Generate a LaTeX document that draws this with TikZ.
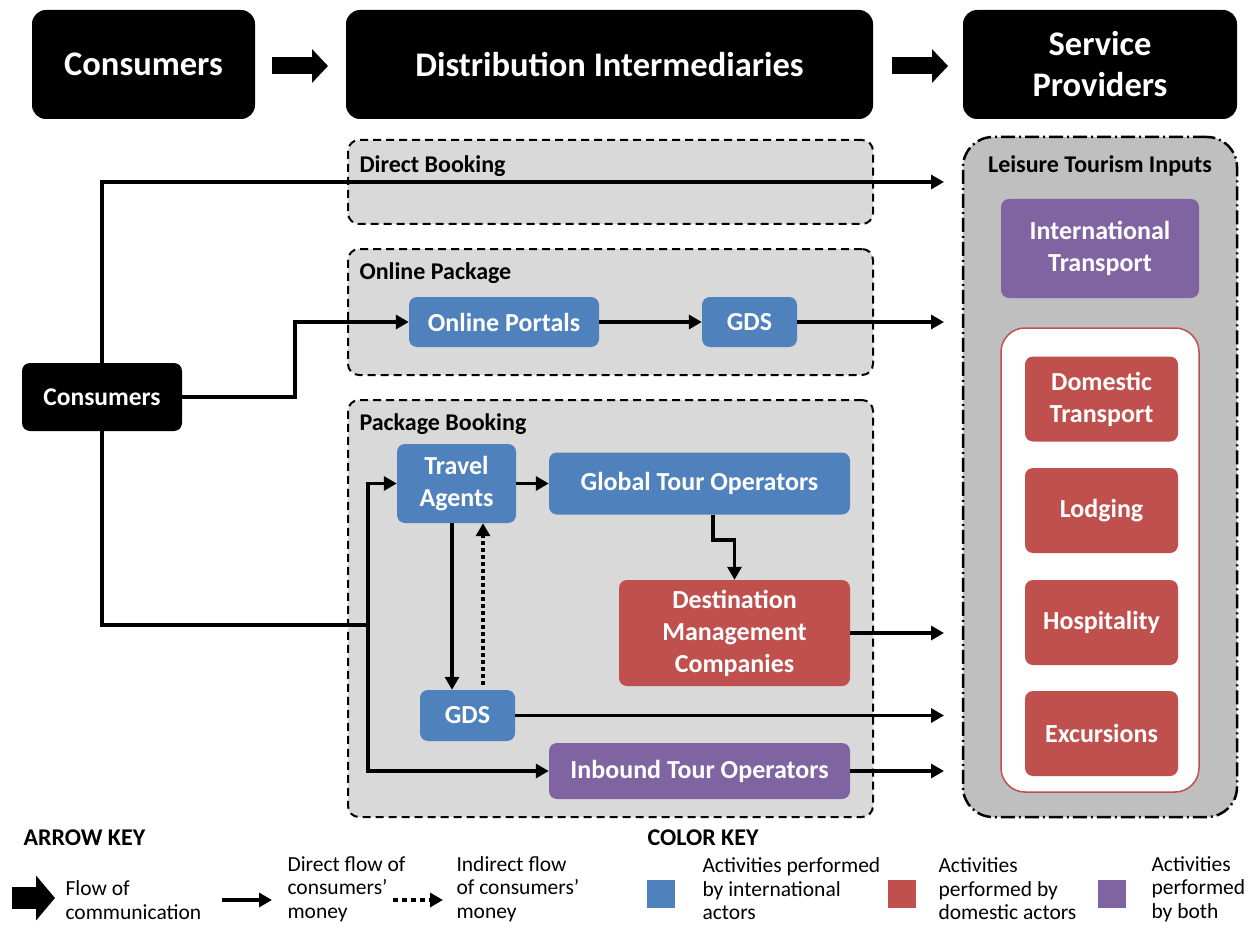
\documentclass[tikz,border=0pt]{standalone}
\usepackage{fontspec}
\setmainfont{Carlito}
\usetikzlibrary{arrows.meta}
\definecolor{intblue}{HTML}{4F81BD}
\definecolor{domred}{HTML}{C0504D}
\definecolor{bothpurple}{HTML}{8064A2}
\definecolor{grpgray}{HTML}{D9D9D9}
\definecolor{panelgray}{HTML}{BFBFBF}

\begin{document}
\begin{tikzpicture}[x=1pt,y=-1pt,
	hdr/.style={fill=black,rounded corners=14pt,text=white,align=center,
		font=\fontsize{34.5}{41}\selectfont\bfseries},
	grp/.style={draw,fill=grpgray,line width=2pt,dash pattern=on 8pt off 5pt,rounded corners=11pt},
	grplabel/.style={anchor=west,font=\fontsize{24}{28}\selectfont\bfseries},
	actbox/.style={rounded corners=8pt,text=white,align=center,
		font=\fontsize{26}{32}\selectfont\bfseries},
	intl/.style={actbox,fill=intblue},
	dom/.style={actbox,fill=domred},
	both/.style={actbox,fill=bothpurple},
	money/.style={line width=3.5pt,-{Triangle[length=13pt,width=14pt]}},
	indirect/.style={money,dash pattern=on 4pt off 3pt},
	comm/.style={line width=17pt,-{Triangle[length=16pt,width=33pt]}},
	keytext/.style={anchor=west,align=left,font=\fontsize{21.5}{23.5}\selectfont},
	keyhead/.style={anchor=west,font=\fontsize{24}{28}\selectfont\bfseries},
	swatch/.style={minimum width=28pt,minimum height=28pt,inner sep=0pt}]
	\useasboundingbox (0,0) rectangle (1258,928);
	% headers
	\node[hdr,minimum width=223pt,minimum height=109pt] (hcons) at (143.5,64.5) {Consumers};
	\node[hdr,minimum width=527pt,minimum height=109pt] (hdist) at (609.5,64.5) {Distribution Intermediaries};
	\node[hdr,minimum width=274pt,minimum height=109pt] (hserv) at (1100,64.5) {Service\\Providers};
	\coordinate (ha1) at (272,66);
	\coordinate (hb1) at (328,66);
	\coordinate (ha2) at (892,66);
	\coordinate (hb2) at (948,66);
	\draw[comm] (ha1) -- (hb1);
	\draw[comm] (ha2) -- (hb2);
	% intermediary groups
	\node[grp,minimum width=525pt,minimum height=84pt] (gdirect) at (610.5,182) {};
	\node[grp,minimum width=525pt,minimum height=126pt] (gonline) at (610.5,312) {};
	\node[grp,minimum width=525pt,minimum height=417pt] (gpackage) at (610.5,608.5) {};
	\node[grplabel] (ldirect) at (356,166) {Direct Booking};
	\node[grplabel] (lonline) at (356,273) {Online Package};
	\node[grplabel] (lpackage) at (356,424) {Package Booking};
	% service providers
	\node[draw,fill=panelgray,line width=2.5pt,rounded corners=30pt,
		dash pattern=on 14pt off 4pt on 2pt off 4pt,
		minimum width=274pt,minimum height=680pt] (inputs) at (1100,477) {};
	\node[grplabel,anchor=center] (linputs) at (1100,166) {Leisure Tourism Inputs};
	\node[both,minimum width=198pt,minimum height=99pt] (itrans) at (1100,248.5) {International\\Transport};
	\node[draw=domred,line width=1.5pt,fill=white,rounded corners=24pt,
		minimum width=198pt,minimum height=464pt] (domgroup) at (1100,560) {};
	\node[dom,minimum width=153pt,minimum height=85pt] (dtrans) at (1101.5,399) {Domestic\\Transport};
	\node[dom,minimum width=153pt,minimum height=85pt] (lodging) at (1101.5,510.5) {Lodging};
	\node[dom,minimum width=153pt,minimum height=85pt] (hosp) at (1101.5,622.5) {Hospitality};
	\node[dom,minimum width=153pt,minimum height=85pt] (excur) at (1101.5,733.5) {Excursions};
	% actors
	\node[fill=black,rounded corners=8pt,text=white,font=\fontsize{25.5}{30}\selectfont\bfseries,
		minimum width=160pt,minimum height=68pt] (cons) at (102,397) {Consumers};
	\node[intl,minimum width=190pt,minimum height=50pt] (portals) at (504,322) {Online Portals};
	\node[intl,minimum width=95pt,minimum height=50pt] (gdsa) at (749.5,322) {GDS};
	\node[intl,minimum width=119pt,minimum height=79pt] (agents) at (456.5,483.5) {Travel\\Agents};
	\node[intl,minimum width=301pt,minimum height=62pt] (globalto) at (699.5,483.5) {Global Tour Operators};
	\node[dom,minimum width=231pt,minimum height=106pt] (dmc) at (734.5,633) {Destination\\Management\\Companies};
	\node[intl,minimum width=95pt,minimum height=51pt] (gdsb) at (467.5,715.5) {GDS};
	\node[both,minimum width=301pt,minimum height=56pt] (inbound) at (699.5,771) {Inbound Tour Operators};
	% free ends at the providers panel
	\coordinate (tdirect) at (944,182);
	\coordinate (tonline) at (944,322);
	\coordinate (tdmc) at (944,633);
	\coordinate (tgds) at (944,715.5);
	\coordinate (tinbound) at (944,771);
	\coordinate (jonline) at (295,397);
	\coordinate (jpackage) at (368,625);
	\coordinate (gtobend) at (713,540);
	% money flows
	\draw[money] (cons.north) |- (tdirect);
	\draw[money] (cons.east) -- (jonline) |- (portals.west);
	\draw[money] (portals) -- (gdsa);
	\draw[money] (gdsa) -- (tonline);
	\draw[line width=3.5pt] (cons.south) |- (jpackage);
	\draw[money] (jpackage) |- (agents.west);
	\draw[money] (jpackage) |- (inbound.west);
	\draw[money] (agents) -- (globalto);
	\draw[money] (gtobend |- globalto.south) -- (gtobend) -| (dmc);
	\draw[money] ([xshift=-4.5pt]agents.south) -- ([xshift=-15.5pt]gdsb.north);
	\draw[indirect] ([xshift=15.5pt,yshift=5pt]gdsb.north) -- ([xshift=26.5pt]agents.south);
	\draw[money] (dmc.east |- tdmc) -- (tdmc);
	\draw[money] (gdsb) -- (tgds);
	\draw[money] (inbound) -- (tinbound);
	% arrow key
	\node[keyhead] (arrowkey) at (20,838) {ARROW KEY};
	\coordinate (kcomms) at (12,898);
	\coordinate (kcomme) at (55,898);
	\draw[line width=22pt,-{Triangle[length=19pt,width=44pt]}] (kcomms) -- (kcomme);
	\node[keytext] (tcomm) at (62,900) {Flow of\\communication};
	\coordinate (kdirs) at (222,900);
	\coordinate (kdire) at (272,900);
	\draw[money] (kdirs) -- (kdire);
	\node[keytext] (tdir) at (284,889) {Direct flow of\\consumers'\\money};
	\coordinate (kinds) at (393,900);
	\coordinate (kinde) at (443,900);
	\draw[indirect,dash pattern=on 5pt off 4pt] (kinds) -- (kinde);
	\node[keytext] (tind) at (453,889) {Indirect flow\\of consumers'\\money};
	% color key
	\node[keyhead] (colorkey) at (644,838) {COLOR KEY};
	\node[swatch,fill=intblue] (sintl) at (661,894) {};
	\node[keytext] (tintl) at (699,889) {Activities performed\\by international\\actors};
	\node[swatch,fill=domred] (sdom) at (902,894) {};
	\node[keytext] (tdom) at (935,889) {Activities\\performed by\\domestic actors};
	\node[swatch,fill=bothpurple] (sboth) at (1112,894) {};
	\node[keytext] (tboth) at (1148,889) {Activities\\performed\\by both};
\end{tikzpicture}
\end{document}
